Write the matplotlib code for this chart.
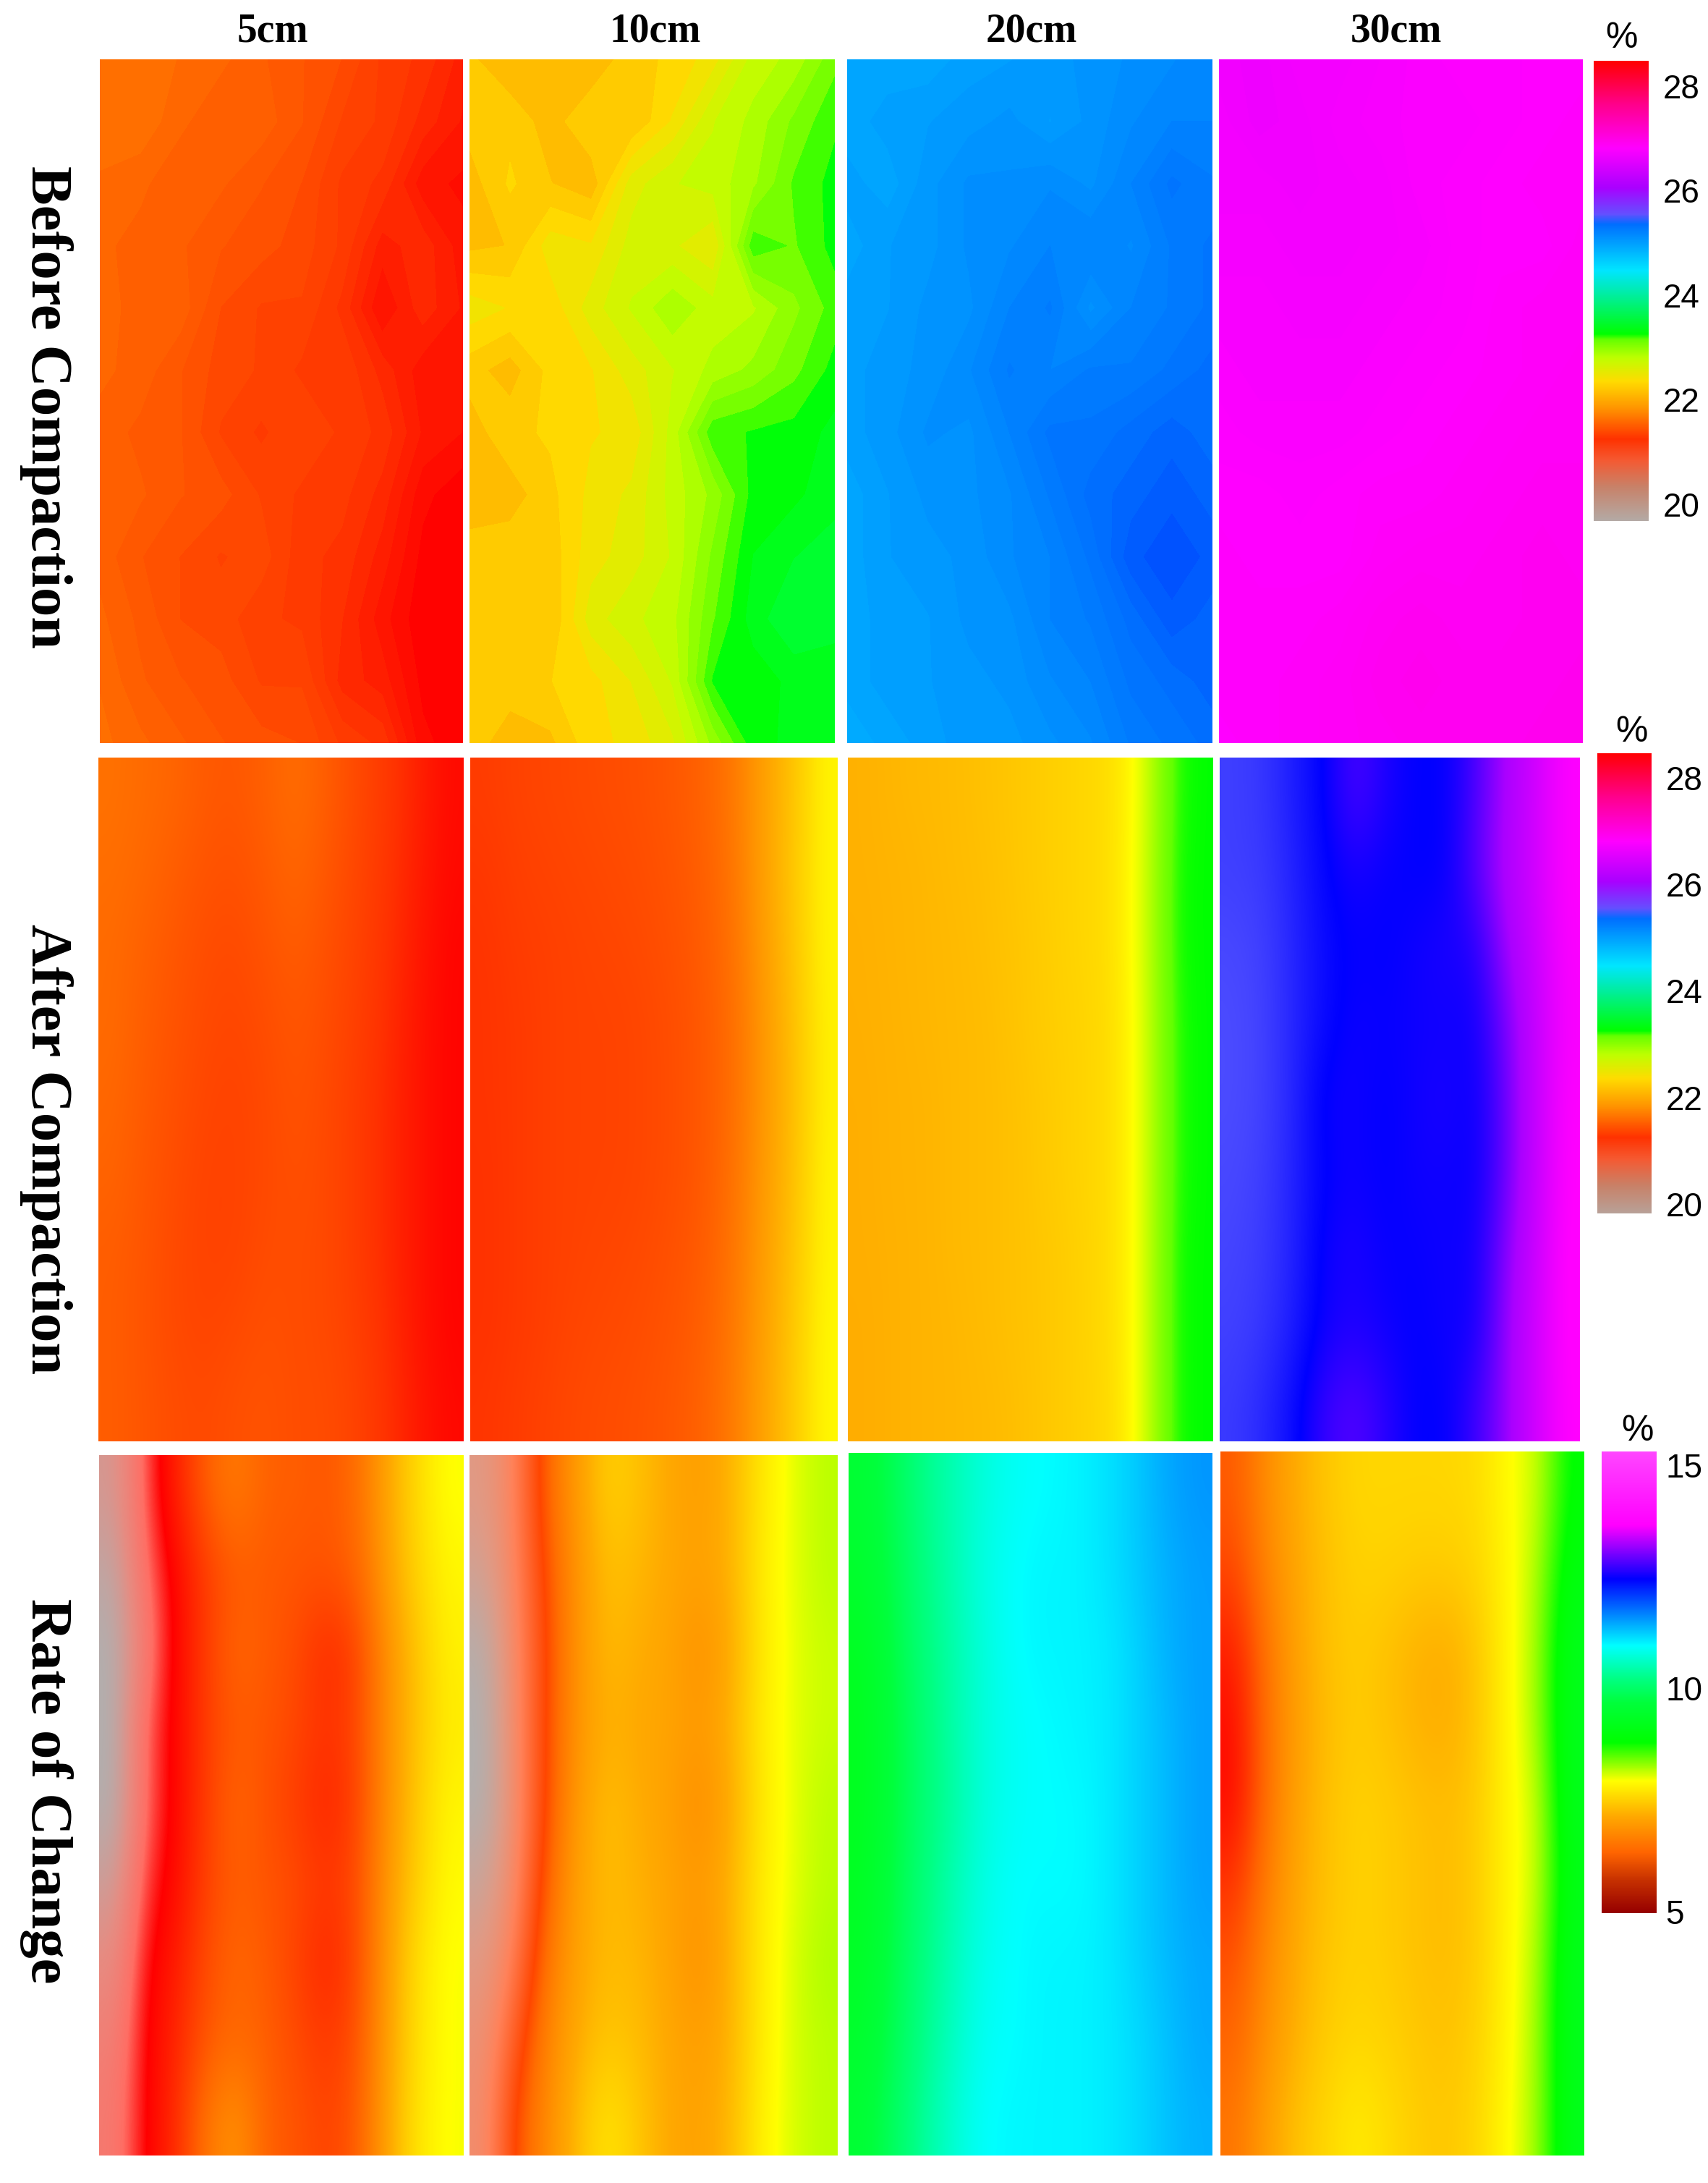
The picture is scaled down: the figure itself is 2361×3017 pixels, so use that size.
import numpy as np
import matplotlib
matplotlib.use('Agg')
import matplotlib.pyplot as plt
from matplotlib.colors import LinearSegmentedColormap, Normalize

W = 2361
H = 3017

col_titles = ['5cm', '10cm', '20cm', '30cm']
row_titles = ['Before Compaction', 'After Compaction', 'Rate of Change']
ticks_top = [28, 26, 24, 22, 20]
ticks_bottom = [15, 10, 5]

# colour scale, value then colour
bar_vals = [19.68, 20.32, 20.83, 21.24, 21.84, 22.35, 22.8, 23.15, 23.25, 24.15, 24.47, 25.36, 25.55, 26.06, 26.82, 27.65, 28.48]
bar_cols = ['#b4aaa5', '#c88269', '#f55a32', '#ff3200', '#ff9600', '#ffdc00', '#beff00', '#64ff00', '#00ff00',
            '#00ebbe', '#00e6ff', '#006eff', '#6450ff', '#aa00ff', '#ff00ff', '#ff008c', '#ff0000']
before_vals = [21.0, 21.24, 21.84, 22.35, 22.8, 23.15, 23.25, 23.6, 24.15, 24.47, 25.36, 25.5, 26.06, 26.82, 27.65, 28.48]
before_cols = ['#ff0000', '#ff3200', '#ff9600', '#ffdc00', '#beff00', '#64ff00', '#00ff00', '#00ff40',
               '#00ebbe', '#00e6ff', '#006eff', '#0050ff', '#aa00ff', '#ff00ff', '#ff008c', '#ff0000']
after_vals = [21.0, 21.24, 21.84, 22.35, 22.55, 22.8, 23.15, 23.25, 23.6]
after_cols = ['#ff0000', '#ff3200', '#ff9600', '#ffdc00', '#ffff00', '#beff00', '#64ff00', '#00ff00', '#00ff40']
blue_vals = [25.0, 25.5, 26.1, 26.8]
blue_cols = ['#5a5aff', '#0000ff', '#aa00ff', '#ff00ff']
rate_bar_vals = [4.96, 5.7, 6.3, 7.13, 7.92, 8.78, 9.68, 10.2, 10.95, 11.9, 12.45, 13.65, 15.3]
rate_bar_cols = ['#960000', '#c83200', '#ff6400', '#ffaa00', '#ffff00', '#00ff00', '#00ff3c', '#00ff82',
                 '#00ffff', '#005aff', '#0000ff', '#ff00ff', '#ff46ff']
rate_vals = [3.8, 4.4, 4.9, 5.3, 5.8, 6.3, 7.13, 7.92, 8.78, 9.68, 10.2, 10.95, 11.9]
rate_cols = ['#b0b0b0', '#e68c82', '#ff6e64', '#ff0000', '#ff3200', '#ff6400', '#ffaa00', '#ffff00',
             '#00ff00', '#00ff3c', '#00ff82', '#00ffff', '#005aff']
# the 10cm panel never reaches pure red, its stripe is a deep orange
salmon_vals = [3.8, 4.4, 5.0, 5.9, 6.3, 7.13, 7.92, 8.78]
salmon_cols = ['#b0b0b0', '#e09a85', '#ff825a', '#ff4600', '#ff6e00', '#ffaa00', '#ffff00', '#00ff00']

before_5 = [
    [21.62, 21.62, 21.58, 21.55, 21.50, 21.45, 21.40, 21.30, 21.25, 21.15],
    [21.60, 21.62, 21.55, 21.50, 21.52, 21.45, 21.35, 21.30, 21.20, 21.12],
    [21.58, 21.55, 21.50, 21.50, 21.45, 21.40, 21.30, 21.25, 21.10, 21.07],
    [21.55, 21.52, 21.50, 21.45, 21.42, 21.38, 21.30, 21.15, 21.20, 21.10],
    [21.58, 21.50, 21.52, 21.40, 21.35, 21.35, 21.25, 21.08, 21.20, 21.12],
    [21.55, 21.52, 21.45, 21.38, 21.35, 21.30, 21.30, 21.20, 21.10, 21.10],
    [21.52, 21.48, 21.45, 21.35, 21.30, 21.35, 21.30, 21.25, 21.12, 21.08],
    [21.50, 21.50, 21.45, 21.42, 21.35, 21.30, 21.28, 21.20, 21.05, 21.00],
    [21.52, 21.45, 21.40, 21.35, 21.38, 21.28, 21.25, 21.15, 21.02, 21.00],
    [21.55, 21.48, 21.40, 21.38, 21.32, 21.30, 21.22, 21.10, 21.00, 21.00],
    [21.58, 21.50, 21.45, 21.42, 21.35, 21.35, 21.20, 21.15, 21.02, 21.00],
    [21.60, 21.55, 21.50, 21.45, 21.42, 21.40, 21.30, 21.25, 21.05, 21.00],
]
before_10 = [
    [22.20, 22.08, 22.15, 22.08, 22.25, 22.30, 22.45, 22.75, 22.85, 23.10],
    [22.22, 22.25, 22.12, 22.28, 22.18, 22.40, 22.70, 22.85, 23.05, 23.22],
    [22.12, 22.30, 22.18, 22.10, 22.55, 22.70, 22.75, 22.90, 23.15, 23.28],
    [22.15, 22.18, 22.45, 22.40, 22.65, 22.62, 22.50, 23.20, 23.12, 23.28],
    [22.45, 22.38, 22.32, 22.55, 22.72, 22.90, 22.75, 22.80, 23.00, 23.18],
    [22.22, 22.12, 22.32, 22.38, 22.55, 22.70, 22.85, 22.95, 23.10, 23.28],
    [22.12, 22.25, 22.30, 22.38, 22.42, 22.75, 23.20, 23.25, 23.28, 23.38],
    [22.08, 22.12, 22.25, 22.42, 22.52, 22.75, 22.95, 23.28, 23.32, 23.42],
    [22.25, 22.25, 22.22, 22.45, 22.55, 22.72, 23.05, 23.35, 23.45, 23.50],
    [22.25, 22.20, 22.18, 22.55, 22.68, 22.78, 23.12, 23.40, 23.55, 23.50],
    [22.20, 22.20, 22.28, 22.35, 22.50, 22.72, 23.25, 23.28, 23.38, 23.38],
    [22.20, 22.15, 22.15, 22.35, 22.42, 22.58, 22.95, 23.30, 23.38, 23.38],
]
before_20 = [
    [24.95, 24.95, 24.95, 25.00, 25.02, 25.05, 25.08, 25.12, 25.15, 25.20],
    [24.95, 25.00, 25.02, 25.05, 25.08, 25.02, 25.08, 25.15, 25.20, 25.20],
    [25.00, 24.95, 25.05, 25.12, 25.12, 25.15, 25.10, 25.20, 25.30, 25.25],
    [24.95, 25.02, 25.05, 25.12, 25.15, 25.20, 25.20, 25.15, 25.25, 25.30],
    [25.00, 25.02, 25.08, 25.10, 25.20, 25.25, 25.10, 25.20, 25.25, 25.30],
    [25.00, 25.05, 25.08, 25.15, 25.25, 25.20, 25.25, 25.25, 25.30, 25.35],
    [25.00, 25.05, 25.12, 25.10, 25.20, 25.30, 25.30, 25.35, 25.40, 25.35],
    [24.95, 25.02, 25.08, 25.10, 25.15, 25.25, 25.35, 25.40, 25.45, 25.40],
    [24.95, 25.02, 25.05, 25.08, 25.15, 25.20, 25.30, 25.45, 25.50, 25.45],
    [24.95, 25.00, 25.02, 25.08, 25.10, 25.20, 25.25, 25.35, 25.45, 25.40],
    [24.95, 25.00, 25.02, 25.05, 25.08, 25.15, 25.20, 25.30, 25.35, 25.40],
    [24.90, 24.95, 25.00, 25.05, 25.05, 25.10, 25.15, 25.25, 25.30, 25.35],
]
before_30 = [
    [26.70, 26.68, 26.72, 26.72, 26.75, 26.78, 26.80, 26.80, 26.82, 26.82],
    [26.72, 26.68, 26.70, 26.74, 26.76, 26.78, 26.78, 26.80, 26.82, 26.84],
    [26.72, 26.72, 26.70, 26.72, 26.74, 26.78, 26.80, 26.82, 26.84, 26.84],
    [26.74, 26.74, 26.72, 26.72, 26.74, 26.76, 26.80, 26.82, 26.82, 26.86],
    [26.76, 26.76, 26.74, 26.74, 26.76, 26.78, 26.80, 26.84, 26.86, 26.86],
    [26.78, 26.76, 26.76, 26.76, 26.78, 26.80, 26.82, 26.84, 26.86, 26.88],
    [26.80, 26.78, 26.78, 26.78, 26.80, 26.82, 26.84, 26.86, 26.88, 26.88],
    [26.82, 26.82, 26.80, 26.82, 26.84, 26.84, 26.86, 26.88, 26.90, 26.90],
    [26.84, 26.82, 26.82, 26.82, 26.86, 26.88, 26.88, 26.90, 26.92, 26.90],
    [26.84, 26.84, 26.84, 26.86, 26.90, 26.92, 26.90, 26.90, 26.92, 26.92],
    [26.84, 26.84, 26.86, 26.88, 26.92, 26.94, 26.92, 26.92, 26.92, 26.94],
    [26.82, 26.84, 26.86, 26.88, 26.90, 26.92, 26.92, 26.92, 26.94, 26.94],
]

after_5 = [
    [21.62, 21.58, 21.55, 21.48, 21.46, 21.52, 21.60, 21.50, 21.38, 21.28, 21.16, 21.05],
    [21.60, 21.56, 21.50, 21.44, 21.42, 21.48, 21.56, 21.46, 21.36, 21.26, 21.14, 21.04],
    [21.58, 21.52, 21.46, 21.40, 21.38, 21.44, 21.50, 21.42, 21.34, 21.24, 21.12, 21.02],
    [21.58, 21.50, 21.44, 21.38, 21.36, 21.40, 21.46, 21.40, 21.32, 21.22, 21.10, 21.02],
    [21.56, 21.48, 21.42, 21.36, 21.34, 21.38, 21.44, 21.38, 21.30, 21.20, 21.10, 21.02],
    [21.54, 21.46, 21.40, 21.34, 21.34, 21.38, 21.42, 21.38, 21.30, 21.20, 21.10, 21.02],
    [21.50, 21.45, 21.38, 21.34, 21.34, 21.40, 21.40, 21.38, 21.30, 21.20, 21.10, 21.02],
    [21.50, 21.44, 21.38, 21.35, 21.38, 21.42, 21.40, 21.38, 21.32, 21.22, 21.10, 21.02],
    [21.50, 21.45, 21.40, 21.38, 21.42, 21.44, 21.40, 21.40, 21.34, 21.24, 21.12, 21.04],
]
after_10 = [
    [21.30, 21.34, 21.36, 21.38, 21.40, 21.42, 21.46, 21.52, 21.64, 21.88, 22.15, 22.50],
    [21.27, 21.32, 21.34, 21.36, 21.38, 21.40, 21.44, 21.50, 21.62, 21.88, 22.18, 22.50],
    [21.25, 21.30, 21.32, 21.34, 21.36, 21.38, 21.42, 21.48, 21.60, 21.85, 22.15, 22.50],
    [21.25, 21.28, 21.32, 21.34, 21.34, 21.36, 21.40, 21.46, 21.58, 21.82, 22.12, 22.48],
    [21.25, 21.28, 21.32, 21.34, 21.34, 21.36, 21.40, 21.46, 21.58, 21.82, 22.10, 22.48],
    [21.24, 21.28, 21.32, 21.34, 21.34, 21.36, 21.40, 21.46, 21.60, 21.84, 22.12, 22.50],
    [21.24, 21.28, 21.32, 21.34, 21.36, 21.38, 21.42, 21.48, 21.62, 21.86, 22.15, 22.50],
    [21.24, 21.28, 21.32, 21.36, 21.38, 21.40, 21.44, 21.50, 21.64, 21.88, 22.18, 22.52],
    [21.26, 21.30, 21.34, 21.38, 21.40, 21.42, 21.46, 21.52, 21.66, 21.90, 22.20, 22.52],
]
after_20 = [
    [22.04, 22.08, 22.10, 22.12, 22.16, 22.20, 22.25, 22.30, 22.35, 22.52, 23.20, 23.25],
    [22.04, 22.06, 22.08, 22.12, 22.14, 22.20, 22.25, 22.30, 22.35, 22.54, 23.22, 23.25],
    [22.03, 22.06, 22.08, 22.10, 22.14, 22.18, 22.24, 22.30, 22.35, 22.54, 23.22, 23.25],
    [22.03, 22.05, 22.08, 22.10, 22.12, 22.18, 22.24, 22.28, 22.34, 22.52, 23.20, 23.25],
    [22.02, 22.05, 22.06, 22.10, 22.12, 22.16, 22.22, 22.28, 22.34, 22.52, 23.20, 23.25],
    [22.02, 22.05, 22.06, 22.10, 22.12, 22.16, 22.22, 22.28, 22.34, 22.52, 23.20, 23.25],
    [22.02, 22.04, 22.06, 22.10, 22.12, 22.16, 22.20, 22.26, 22.34, 22.52, 23.22, 23.25],
    [22.01, 22.04, 22.06, 22.08, 22.12, 22.16, 22.20, 22.26, 22.34, 22.52, 23.22, 23.25],
    [22.01, 22.04, 22.06, 22.08, 22.10, 22.14, 22.20, 22.26, 22.32, 22.52, 23.22, 23.25],
]
after_30 = [
    [25.15, 25.20, 25.35, 25.50, 25.78, 25.60, 25.50, 25.50, 25.75, 26.10, 26.40, 26.80],
    [25.15, 25.18, 25.32, 25.48, 25.58, 25.52, 25.50, 25.50, 25.80, 26.15, 26.42, 26.80],
    [25.10, 25.15, 25.30, 25.45, 25.52, 25.50, 25.55, 25.60, 25.60, 26.05, 26.35, 26.78],
    [25.08, 25.14, 25.30, 25.45, 25.55, 25.52, 25.55, 25.55, 25.55, 25.90, 26.30, 26.75],
    [25.08, 25.14, 25.30, 25.55, 25.55, 25.50, 25.55, 25.60, 25.52, 25.85, 26.30, 26.80],
    [25.10, 25.16, 25.32, 25.50, 25.55, 25.50, 25.55, 25.55, 25.52, 25.85, 26.30, 26.82],
    [25.12, 25.18, 25.32, 25.55, 25.60, 25.52, 25.52, 25.55, 25.55, 25.95, 26.35, 26.85],
    [25.14, 25.20, 25.35, 25.55, 25.60, 25.55, 25.50, 25.55, 25.55, 26.00, 26.40, 26.85],
    [25.18, 25.28, 25.45, 25.70, 25.80, 25.65, 25.50, 25.50, 25.70, 26.00, 26.40, 26.82],
]

rate_5 = [
    [4.20, 5.00, 5.60, 6.25, 6.60, 6.25, 6.25, 6.15, 6.40, 7.10, 7.60, 7.95],
    [3.95, 4.90, 5.35, 5.90, 6.20, 6.20, 6.15, 6.15, 6.30, 7.05, 7.55, 7.85],
    [3.80, 4.70, 5.35, 5.90, 6.35, 6.20, 6.05, 5.70, 5.95, 6.85, 7.40, 7.80],
    [3.80, 5.00, 5.35, 5.90, 6.20, 6.15, 6.00, 5.80, 6.00, 6.85, 7.40, 7.75],
    [3.80, 4.95, 5.35, 5.90, 6.35, 6.10, 5.90, 5.65, 5.95, 6.85, 7.45, 7.85],
    [4.10, 5.10, 5.40, 5.95, 6.25, 6.15, 6.05, 5.85, 6.05, 6.95, 7.50, 7.90],
    [4.40, 5.25, 5.55, 6.05, 6.35, 6.20, 5.95, 5.65, 6.00, 7.00, 7.65, 7.95],
    [4.60, 5.30, 5.65, 6.15, 6.35, 6.25, 6.05, 5.85, 6.10, 7.05, 7.65, 7.95],
    [4.70, 5.30, 5.70, 6.50, 6.90, 6.25, 6.15, 5.95, 6.20, 7.10, 7.70, 7.95],
]
rate_10 = [
    [4.40, 5.00, 6.20, 6.95, 7.50, 7.35, 7.10, 6.95, 7.20, 7.70, 8.00, 8.15],
    [4.20, 4.95, 6.00, 6.85, 7.35, 7.25, 7.10, 7.00, 7.20, 7.75, 8.00, 8.15],
    [3.85, 4.85, 5.90, 6.85, 7.30, 7.15, 7.05, 6.75, 7.10, 7.70, 8.00, 8.10],
    [3.80, 4.80, 5.95, 6.85, 7.20, 7.10, 7.05, 6.90, 7.20, 7.75, 8.00, 8.10],
    [3.80, 4.75, 5.95, 6.95, 7.35, 7.15, 7.00, 6.70, 7.10, 7.70, 8.00, 8.15],
    [4.10, 4.85, 6.15, 7.05, 7.30, 7.20, 7.05, 6.90, 7.20, 7.75, 8.00, 8.15],
    [4.40, 5.10, 6.40, 7.05, 7.30, 7.25, 7.05, 6.75, 7.20, 7.75, 8.05, 8.20],
    [4.60, 5.60, 6.60, 7.15, 7.40, 7.30, 7.10, 6.95, 7.20, 7.75, 8.05, 8.15],
    [4.70, 6.00, 6.70, 7.30, 7.70, 7.40, 7.10, 7.00, 7.25, 7.80, 8.05, 8.15],
]
rate_20 = [
    [9.55, 9.85, 10.25, 10.50, 10.75, 10.90, 10.95, 11.00, 11.10, 11.25, 11.45, 11.55],
    [9.45, 9.80, 10.20, 10.50, 10.80, 10.95, 11.00, 11.00, 11.10, 11.25, 11.40, 11.50],
    [9.30, 9.75, 10.15, 10.45, 10.75, 10.95, 11.00, 11.00, 11.05, 11.20, 11.40, 11.50],
    [9.25, 9.70, 10.10, 10.45, 10.75, 10.90, 10.95, 11.00, 11.05, 11.20, 11.35, 11.50],
    [9.25, 9.70, 10.10, 10.40, 10.75, 10.90, 10.95, 10.95, 11.05, 11.20, 11.35, 11.50],
    [9.30, 9.75, 10.15, 10.50, 10.80, 10.95, 10.95, 10.95, 11.05, 11.20, 11.35, 11.50],
    [9.35, 9.80, 10.20, 10.55, 10.85, 10.95, 11.00, 11.00, 11.05, 11.20, 11.35, 11.45],
    [9.45, 9.85, 10.25, 10.60, 10.90, 10.95, 11.00, 11.00, 11.05, 11.15, 11.30, 11.45],
    [9.55, 9.95, 10.35, 10.70, 10.95, 10.98, 11.00, 11.00, 11.05, 11.15, 11.30, 11.40],
]
rate_30 = [
    [6.20, 6.80, 7.15, 7.40, 7.55, 7.55, 7.55, 7.55, 7.60, 7.90, 8.10, 8.85],
    [6.00, 6.70, 7.10, 7.35, 7.50, 7.50, 7.45, 7.45, 7.55, 7.85, 8.20, 9.00],
    [5.60, 6.50, 7.05, 7.35, 7.45, 7.35, 7.20, 7.15, 7.40, 7.85, 8.25, 9.20],
    [5.40, 6.45, 7.00, 7.30, 7.45, 7.35, 7.20, 7.15, 7.40, 7.85, 8.25, 9.20],
    [5.40, 6.45, 7.05, 7.35, 7.50, 7.45, 7.35, 7.30, 7.45, 7.85, 8.10, 9.20],
    [5.80, 6.60, 7.10, 7.35, 7.50, 7.45, 7.35, 7.30, 7.45, 7.85, 8.10, 9.10],
    [6.10, 6.75, 7.15, 7.40, 7.50, 7.45, 7.35, 7.30, 7.45, 7.85, 8.20, 9.20],
    [6.30, 6.85, 7.20, 7.45, 7.55, 7.50, 7.40, 7.35, 7.50, 7.85, 8.25, 9.20],
    [6.50, 7.00, 7.35, 7.55, 7.75, 7.60, 7.45, 7.40, 7.55, 7.90, 8.25, 9.20],
]

plt.rcParams['font.family'] = ['Liberation Serif', 'DejaVu Serif']


def make_cmap(vals, cols):
    vmin, vmax = vals[0], vals[-1]
    pos = [(v - vmin) / (vmax - vmin) for v in vals]
    cmap = LinearSegmentedColormap.from_list('m', list(zip(pos, cols)), N=1024)
    return cmap, Normalize(vmin, vmax)


def add_ax(x0, x1, y0, y1):
    # pixel box, y measured from the top
    ax = fig.add_axes([x0 / W, 1 - y1 / H, (x1 - x0) / W, (y1 - y0) / H])
    return ax


def smooth(box, data, cmap, norm):
    ax = add_ax(*box)
    ax.imshow(np.array(data), cmap=cmap, norm=norm, aspect='auto', interpolation='bicubic')
    ax.axis('off')


def facets(box, data, cmap, norm):
    # coarse filled contours give the polygon patches of the upper row
    ax = add_ax(*box)
    z = np.array(data)
    x = np.linspace(0, 1, z.shape[1])
    y = np.linspace(1, 0, z.shape[0])
    ax.contourf(x, y, z, levels=np.linspace(z.min() - 0.01, z.max() + 0.01, 15), cmap=cmap, norm=norm)
    ax.axis('off')


def color_bar(box, vlim, vals, cols, ticks, pad):
    ax = add_ax(*box)
    cmap, norm = make_cmap(vals, cols)
    grad = np.linspace(vlim[0], vlim[1], 600).reshape(-1, 1)
    ax.imshow(grad, cmap=cmap, norm=norm, aspect='auto', origin='lower',
              extent=[0, 1, vlim[0], vlim[1]])
    ax.set_xticks([])
    ax.set_yticks(ticks)
    ax.yaxis.tick_right()
    ax.tick_params(length=0, pad=pad, labelsize=33)
    for lab in ax.get_yticklabels():
        lab.set_family('Liberation Sans')
    for s in ax.spines.values():
        s.set_visible(False)


fig = plt.figure(figsize=(W / 100, H / 100), dpi=100, facecolor='white')

before_cm, before_nm = make_cmap(before_vals, before_cols)
after_cm, after_nm = make_cmap(after_vals, after_cols)
blue_cm, blue_nm = make_cmap(blue_vals, blue_cols)
rate_cm, rate_nm = make_cmap(rate_vals, rate_cols)
salmon_cm, salmon_nm = make_cmap(salmon_vals, salmon_cols)

facets((138, 640, 82, 1027), before_5, before_cm, before_nm)
facets((649, 1154, 82, 1027), before_10, before_cm, before_nm)
facets((1171, 1676, 82, 1027), before_20, before_cm, before_nm)
facets((1685, 2188, 82, 1027), before_30, before_cm, before_nm)

smooth((136, 641, 1047, 1992), after_5, after_cm, after_nm)
smooth((650, 1158, 1047, 1992), after_10, after_cm, after_nm)
smooth((1172, 1676, 1047, 1992), after_20, after_cm, after_nm)
smooth((1686, 2184, 1047, 1992), after_30, blue_cm, blue_nm)

smooth((137, 641, 2011, 2979), rate_5, rate_cm, rate_nm)
smooth((649, 1158, 2011, 2979), rate_10, salmon_cm, salmon_nm)
smooth((1173, 1676, 2008, 2979), rate_20, rate_cm, rate_nm)
smooth((1687, 2190, 2006, 2979), rate_30, rate_cm, rate_nm)

color_bar((2203, 2279, 84, 720), (19.68, 28.48), bar_vals, bar_cols, ticks_top, 14)
color_bar((2208, 2283, 1041, 1677), (19.82, 28.46), bar_vals, bar_cols, ticks_top, 14)
color_bar((2214, 2290, 2006, 2644), (4.96, 15.3), rate_bar_vals, rate_bar_cols, ticks_bottom, 9)

for x, t in zip([377, 906, 1426, 1930], col_titles):
    fig.text(x / W, 1 - 44 / H, t, ha='center', va='center', fontsize=40, fontweight='bold')

for y, t in zip([563, 1588, 2475], row_titles):
    fig.text(64 / W, 1 - y / H, t, ha='center', va='center', fontsize=58, fontweight='bold', rotation=270)

for x, y in zip([2241, 2255, 2263], [53, 1012, 1978]):
    fig.text(x / W, 1 - y / H, '%', ha='center', va='center', fontsize=36, family='Liberation Sans')

fig.savefig('out.png', dpi=100)
